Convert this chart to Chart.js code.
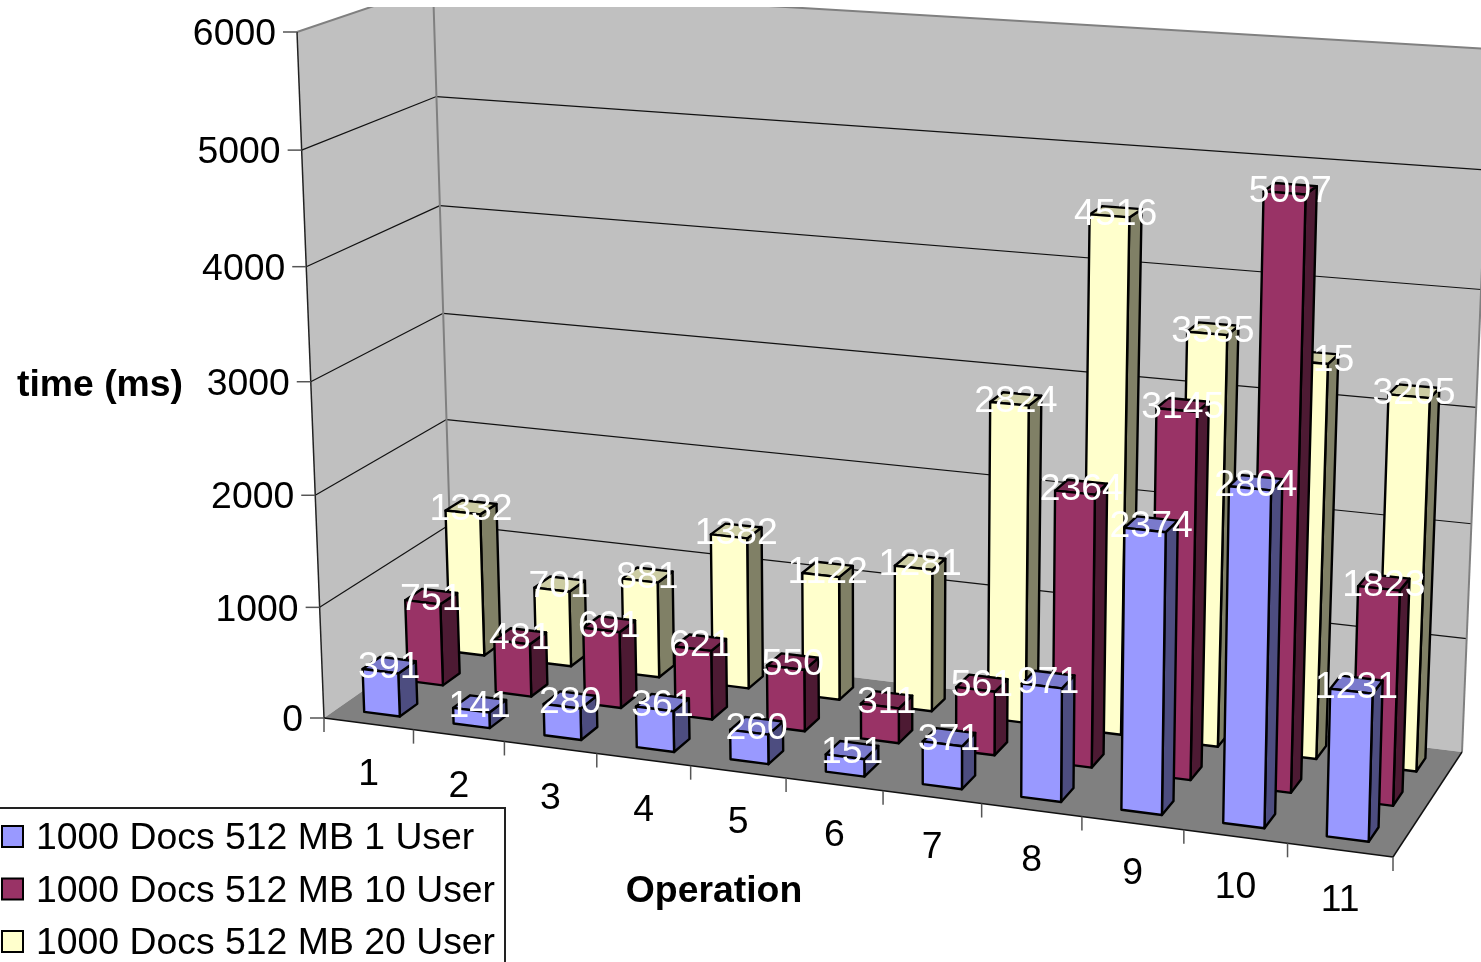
<!DOCTYPE html>
<html>
<head>
<meta charset="utf-8">
<style>
  html, body { margin: 0; background: #fff; }
  canvas { display: block; }
</style>
<script src="https://cdn.jsdelivr.net/npm/chart.js@4/dist/chart.umd.min.js"></script>
</head>
<body>
<canvas id="chart" width="1481" height="962"></canvas>
<script>
const operations = ['1', '2', '3', '4', '5', '6', '7', '8', '9', '10', '11'];
const seriesNames = ['1000 Docs 512 MB 1 User', '1000 Docs 512 MB 10 User', '1000 Docs 512 MB 20 User'];
const oneUser = [391, 141, 280, 361, 260, 151, 371, 971, 2374, 2804, 1231];
const tenUsers = [751, 481, 691, 621, 550, 311, 561, 2364, 3145, 5007, 1823];
const twentyUsers = [1332, 701, 881, 1382, 1122, 1281, 2824, 4516, 3585, 3415, 3205];
const frontColors = ['#9999FF', '#993366', '#FFFFCC'];
const sideColors = ['#4D4D80', '#4D1A33', '#808066'];
const topColors = ['#7A7ACC', '#7A2952', '#CCCCA3'];

const FONT = '"Liberation Sans", Arial, sans-serif';
const FONT_SIZE = 37;
const TEXT_STRETCH = 1.01;
const BAR_SHARE = 0.4;
const BAR_LINE = 2.4;

// corners of the box the bars stand in: front-left, front-right, back-right, back-left
const floorCorners = [[324, 718], [1393, 857], [1462, 752], [453, 628]];
const ceilingCorners = [[297, 32], [1413, 105], [1491, 49], [433, -14]];

function quadMap(c) {
  const [[x0, y0], [x1, y1], [x2, y2], [x3, y3]] = c;
  const dx1 = x1 - x2, dx2 = x3 - x2, sx = x0 - x1 + x2 - x3;
  const dy1 = y1 - y2, dy2 = y3 - y2, sy = y0 - y1 + y2 - y3;
  const den = dx1 * dy2 - dx2 * dy1;
  const g = (sx * dy2 - dx2 * sy) / den;
  const h = (dx1 * sy - sx * dy1) / den;
  const a = x1 - x0 + g * x1, b = x3 - x0 + h * x3;
  const d = y1 - y0 + g * y1, e = y3 - y0 + h * y3;
  return (u, v) => {
    const w = g * u + h * v + 1;
    return [(a * u + b * v + x0) / w, (d * u + e * v + y0) / w];
  };
}

const floorAt = quadMap(floorCorners);
const ceilingAt = quadMap(ceilingCorners);

// foreshortening along an axis, r = 1 leaves it linear
const foreshorten = (t, r) => t / (r - (r - 1) * t);

// u along the operations, d into the depth, h up the value axis (all 0..1)
function project(u, d, h) {
  const t = foreshorten(h, 1.04);
  const f = floorAt(foreshorten(u, 1.021), d);
  const c = ceilingAt(foreshorten(u, 0.98), d);
  return [f[0] + (c[0] - f[0]) * t, f[1] + (c[1] - f[1]) * t];
}

function face(ctx, pts, fill, stroke, width) {
  ctx.beginPath();
  pts.forEach((p, i) => i ? ctx.lineTo(p[0], p[1]) : ctx.moveTo(p[0], p[1]));
  ctx.closePath();
  if (fill) { ctx.fillStyle = fill; ctx.fill(); }
  if (stroke) { ctx.strokeStyle = stroke; ctx.lineWidth = width; ctx.stroke(); }
}

function line(ctx, a, b, color, width) {
  ctx.beginPath();
  ctx.moveTo(a[0], a[1]);
  ctx.lineTo(b[0], b[1]);
  ctx.strokeStyle = color;
  ctx.lineWidth = width;
  ctx.stroke();
}

function text(ctx, str, x, y, align, color, bold) {
  ctx.save();
  ctx.translate(x, y + 3);
  ctx.scale(TEXT_STRETCH, 1);
  ctx.font = (bold ? 'bold ' : '') + FONT_SIZE + 'px ' + FONT;
  ctx.textAlign = align;
  ctx.textBaseline = 'middle';
  ctx.fillStyle = color;
  ctx.fillText(str, 0, 0);
  ctx.restore();
}

// bar controller whose elements are painted as boxes on the projected floor
class Box3dController extends Chart.BarController {
  draw() {
    const chart = this.chart;
    const ctx = chart.ctx;
    const xScale = chart.scales.x;
    const yScale = chart.scales.y;
    const s = this.index;
    const dFront = (s + 0.5 - BAR_SHARE / 2) / seriesNames.length;
    const dBack = (s + 0.5 + BAR_SHARE / 2) / seriesNames.length;
    const values = this.getDataset().data;

    ctx.save();
    ctx.lineJoin = 'round';
    this.getMeta().data.forEach((bar, i) => {
      const uMid = (bar.x - xScale.left) / xScale.width;
      const half = bar.width / 2 / xScale.width;
      const u0 = uMid - half, u1 = uMid + half;
      const h = (yScale.bottom - yScale.getPixelForValue(values[i])) / yScale.height;

      face(ctx, [project(u1, dFront, 0), project(u1, dBack, 0), project(u1, dBack, h), project(u1, dFront, h)], sideColors[s], '#000', BAR_LINE);
      face(ctx, [project(u0, dFront, h), project(u1, dFront, h), project(u1, dBack, h), project(u0, dBack, h)], topColors[s], '#000', BAR_LINE);
      face(ctx, [project(u0, dFront, 0), project(u1, dFront, 0), project(u1, dFront, h), project(u0, dFront, h)], frontColors[s], '#000', BAR_LINE);

      const top = project(uMid, (dFront + dBack) / 2, h);
      text(ctx, String(values[i]), top[0], top[1], 'center', '#fff');
    });
    ctx.restore();
  }
}
Box3dController.id = 'box3d';
Box3dController.defaults = Chart.BarController.defaults;
Chart.register(Box3dController);

const boxFrame = {
  id: 'boxFrame',
  beforeDatasetsDraw(chart) {
    const ctx = chart.ctx;
    const yScale = chart.scales.y;
    const xScale = chart.scales.x;
    const heightOf = v => (yScale.bottom - yScale.getPixelForValue(v)) / yScale.height;

    ctx.save();
    ctx.beginPath();
    ctx.rect(0, 7, chart.width, chart.height - 7);
    ctx.clip();

    face(ctx, [project(0, 0, 0), project(0, 1, 0), project(0, 1, 1), project(0, 0, 1)], '#C0C0C0');
    face(ctx, [project(0, 1, 0), project(1, 1, 0), project(1, 1, 1), project(0, 1, 1)], '#C0C0C0');
    face(ctx, [project(0, 0, 0), project(1, 0, 0), project(1, 1, 0), project(0, 1, 0)], '#808080');

    yScale.ticks.forEach(tick => {
      const h = heightOf(tick.value);
      if (h > 0 && h < 1) {
        line(ctx, project(0, 0, h), project(0, 1, h), '#111', 1.2);
        line(ctx, project(0, 1, h), project(1, 1, h), '#111', 1.2);
      }
    });

    // wall outline, lighter on the far edges
    line(ctx, project(0, 1, 0), project(0, 1, 1), '#808080', 2);
    line(ctx, project(1, 1, 0), project(1, 1, 1), '#808080', 2);
    line(ctx, project(0, 0, 1), project(0, 1, 1), '#808080', 2);
    line(ctx, project(0, 1, 1), project(1, 1, 1), '#808080', 2);
    line(ctx, project(0, 0, 0), project(0, 0, 1), '#222', 1.5);
    line(ctx, project(0, 0, 0), project(1, 0, 0), '#111', 1.5);
    line(ctx, project(1, 0, 0), project(1, 1, 0), '#111', 1.5);

    // value axis ticks and labels
    yScale.ticks.forEach(tick => {
      const p = project(0, 0, heightOf(tick.value));
      line(ctx, p, [p[0] - 14, p[1]], '#555', 1.5);
      text(ctx, String(tick.value), p[0] - 21, p[1], 'right', '#000');
    });

    // operation axis ticks and labels
    const count = operations.length;
    for (let i = 0; i <= count; i++) {
      const p = project(i / count, 0, 0);
      line(ctx, p, [p[0], p[1] + 14], '#555', 1.5);
    }
    operations.forEach((label, i) => {
      const u = (xScale.getPixelForTick(i) - xScale.left) / xScale.width;
      const p = project(u, 0, 0);
      text(ctx, label, p[0], p[1] + 48, 'center', '#000');
    });

    text(ctx, yScale.options.title.text, 100, 383, 'center', '#000', true);
    text(ctx, xScale.options.title.text, 714, 889, 'center', '#000', true);
    ctx.restore();
  },
  afterDraw(chart) {
    const ctx = chart.ctx;
    ctx.save();
    face(ctx, [[-4, 808], [505, 808], [505, 970], [-4, 970]], '#fff', '#222', 2);
    seriesNames.forEach((name, i) => {
      const y = 836 + i * 52.5;
      face(ctx, [[2, y - 10], [23, y - 10], [23, y + 11], [2, y + 11]], frontColors[i], '#000', 2);
      text(ctx, name, 36, y, 'left', '#000');
    });
    ctx.restore();
  }
};

new Chart(document.getElementById('chart'), {
  type: 'box3d',
  data: {
    labels: operations,
    datasets: [oneUser, tenUsers, twentyUsers].map((values, i) => ({
      label: seriesNames[i],
      data: values,
      grouped: false,
      barPercentage: BAR_SHARE,
      categoryPercentage: 1
    }))
  },
  options: {
    responsive: false,
    animation: false,
    plugins: { legend: { display: false }, tooltip: { enabled: false } },
    scales: {
      x: { type: 'category', display: false, title: { text: 'Operation' } },
      y: { type: 'linear', display: false, min: 0, max: 6000, ticks: { stepSize: 1000 }, title: { text: 'time (ms)' } }
    }
  },
  plugins: [boxFrame]
});
</script>
</body>
</html>
